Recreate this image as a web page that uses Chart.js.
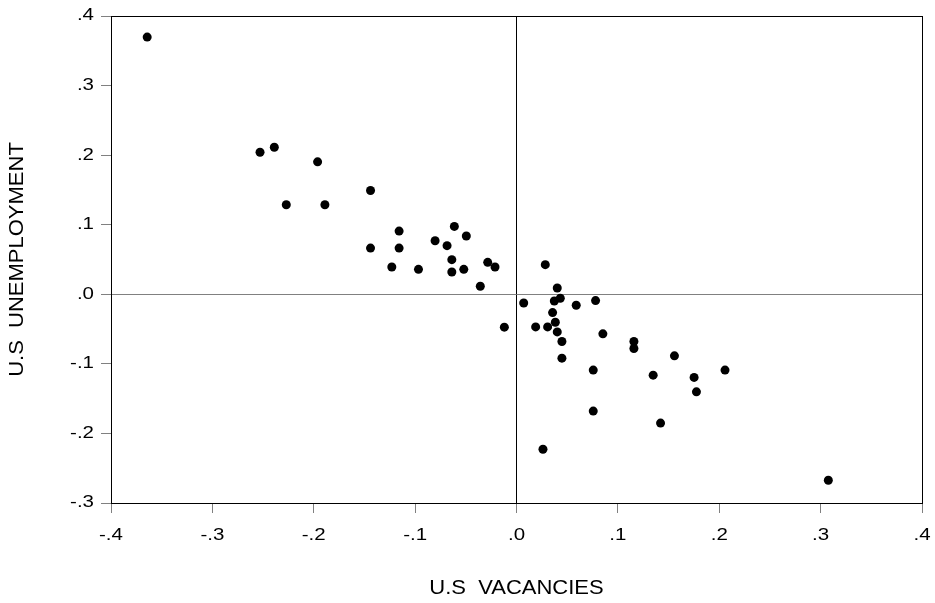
<!DOCTYPE html>
<html>
<head>
<meta charset="utf-8">
<script src="https://cdn.jsdelivr.net/npm/chart.js@4/dist/chart.umd.min.js"></script>
<style>
html,body{margin:0;padding:0;background:#fff;}
canvas{display:block;}
</style>
</head>
<body>
<canvas id="c" width="935" height="603"></canvas>
<script>
const vacancies = [
 -0.3643,-0.2530,-0.2389,-0.1962,-0.2271,-0.1890,-0.1440,-0.1158,-0.1440,-0.1158,
 -0.0613,-0.0495,-0.0803,-0.0685,-0.0638,-0.1230,-0.0967,-0.0638,-0.0520,-0.0284,
 -0.0212,-0.0357,-0.0120,0.0284,0.0402,0.0071,0.0373,0.0432,0.0589,0.0780,
 0.0356,0.0383,0.0189,0.0307,0.0402,0.0448,0.0448,0.0852,0.1158,0.1158,
 0.0757,0.0757,0.1348,0.1558,0.1752,0.1775,0.2057,0.1421,0.0261,0.3076
];
const unemployment = [
 0.3697,0.2042,0.2114,0.1904,0.1287,0.1287,0.1492,0.0908,0.0664,0.0664,
 0.0976,0.0837,0.0770,0.0699,0.0498,0.0392,0.0359,0.0320,0.0359,0.0459,
 0.0392,0.0115,-0.0473,0.0426,0.0090,-0.0125,-0.0096,-0.0057,-0.0158,-0.0091,
 -0.0263,-0.0402,-0.0469,-0.0469,-0.0541,-0.0679,-0.0918,-0.0569,-0.0679,-0.0779,
 -0.1090,-0.1679,-0.1162,-0.0885,-0.1195,-0.1402,-0.1090,-0.1851,-0.2228,-0.2673
];
const xTitle = "U.S  VACANCIES";
const yTitle = "U.S  UNEMPLOYMENT";
const xMin = -0.4, xMax = 0.4, yMin = -0.3, yMax = 0.4, step = 0.1;

const points = vacancies.map((v, i) => ({x: v, y: unemployment[i]}));
const fmt = v => {
  const r = Math.round(v * 10) / 10;
  return r.toFixed(1).replace('0.', '.');
};
const family = "'Liberation Sans', Arial, sans-serif";
const tickFont = {family: family, size: 16};
const titleFont = {family: family, size: 20};
const gridColor = ctx => (Math.abs(ctx.tick.value) < 1e-9 ? (ctx.scale.axis === 'x' ? '#000' : '#808080') : 'rgba(0,0,0,0)');

const canvas = document.getElementById('c');
const c2d = canvas.getContext('2d');
// the reference text is drawn slightly wide: stretch glyphs horizontally around the anchor
const origFill = c2d.fillText.bind(c2d);
c2d.fillText = function (t, x, y) {
  const m = /(\d+(?:\.\d+)?)px/.exec(this.font);
  const size = m ? +m[1] : 16;
  const sx = size >= 18 ? 1.1 : 1.28;
  this.save();
  this.translate(x, y);
  this.scale(sx, 1);
  origFill(t, 0, 0);
  this.restore();
};

const frame = {
  id: 'frame',
  afterDraw(chart) {
    const a = chart.chartArea, c = chart.ctx;
    c.save();
    c.strokeStyle = '#000';
    c.lineWidth = 1;
    c.strokeRect(Math.round(a.left) + 0.5, Math.round(a.top) + 0.5, Math.round(a.right - a.left), Math.round(a.bottom - a.top));
    c.restore();
  }
};

Chart.defaults.font.family = family;
Chart.defaults.color = '#000';

new Chart(canvas, {
  type: 'scatter',
  data: {datasets: [{data: points, backgroundColor: '#000', borderWidth: 0, pointRadius: 4.5, pointHoverRadius: 4.5}]},
  options: {
    responsive: false, animation: false, devicePixelRatio: 1,
    layout: {padding: {left: 0, right: 13, top: 16, bottom: 0}},
    plugins: {legend: {display: false}, tooltip: {enabled: false}},
    scales: {
      x: {
        type: 'linear', min: xMin, max: xMax,
        afterFit: s => { s.height = 100; s.paddingLeft = 0; s.paddingRight = 0; },
        ticks: {stepSize: step, callback: fmt, font: tickFont, color: '#000', padding: 13, maxRotation: 0, autoSkip: false},
        grid: {color: gridColor, tickColor: '#808080', tickLength: 10, lineWidth: 1},
        border: {display: false},
        title: {display: true, text: xTitle, font: titleFont, color: '#000', padding: {top: 0, bottom: 3}}
      },
      y: {
        type: 'linear', min: yMin, max: yMax,
        afterFit: s => { s.width = 111; s.paddingTop = 0; s.paddingBottom = 0; },
        ticks: {stepSize: step, callback: fmt, font: tickFont, color: '#000', padding: 7, autoSkip: false},
        grid: {color: gridColor, tickColor: '#808080', tickLength: 10, lineWidth: 1},
        border: {display: false},
        title: {display: true, text: yTitle, font: titleFont, color: '#000', padding: {top: 5, bottom: 0}}
      }
    }
  },
  plugins: [frame]
});
</script>
</body>
</html>
